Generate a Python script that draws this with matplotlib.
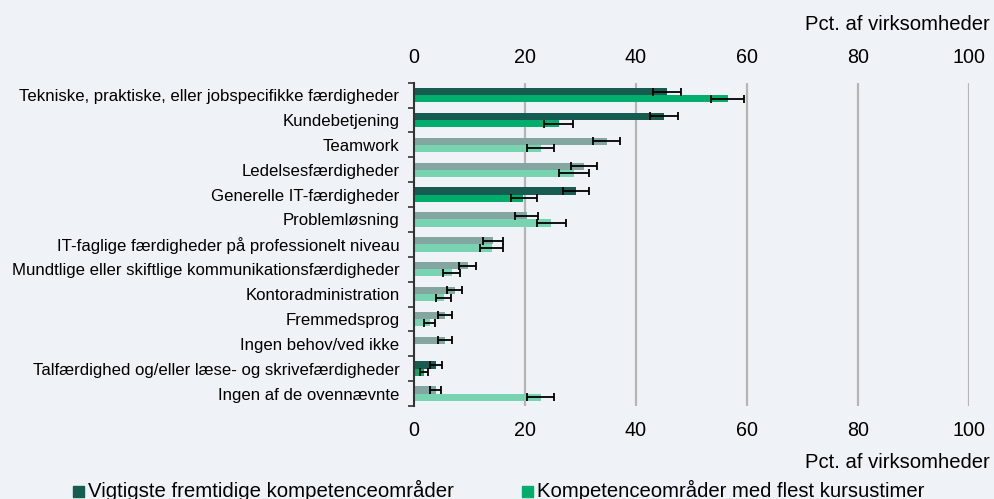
import numpy as np
import matplotlib.pyplot as plt
from matplotlib.patches import Rectangle

categories = ['Tekniske, praktiske, eller jobspecifikke færdigheder',
              'Kundebetjening',
              'Teamwork',
              'Ledelsesfærdigheder',
              'Generelle IT-færdigheder',
              'Problemløsning',
              'IT-faglige færdigheder på professionelt niveau',
              'Mundtlige eller skiftlige kommunikationsfærdigheder',
              'Kontoradministration',
              'Fremmedsprog',
              'Ingen behov/ved ikke',
              'Talfærdighed og/eller læse- og skrivefærdigheder',
              'Ingen af de ovennævnte']

# vigtigste fremtidige kompetenceomraader
future_val = [45.5, 45.0, 34.7, 30.6, 29.1, 20.4, 14.2, 9.7, 7.4, 5.6, 5.6, 4.0, 3.9]
future_lo = [43.1, 42.5, 32.2, 28.3, 26.8, 18.2, 12.5, 8.1, 5.9, 4.4, 4.4, 2.9, 2.9]
future_hi = [48.1, 47.6, 37.1, 33.0, 31.5, 22.3, 16.0, 11.1, 8.6, 6.8, 6.8, 5.0, 4.9]

# kompetenceomraader med flest kursustimer
course_val = [56.5, 26.1, 22.9, 28.8, 19.7, 24.7, 14.0, 6.8, 5.4, 2.9, np.nan, 1.8, 22.9]
course_lo = [53.6, 23.5, 20.4, 26.2, 17.4, 22.2, 11.9, 5.3, 4.0, 1.8, np.nan, 1.0, 20.4]
course_hi = [59.5, 28.7, 25.3, 31.5, 22.1, 27.3, 16.0, 8.2, 6.7, 3.8, np.nan, 2.6, 25.3]

# rows drawn in full colour (the rest are faded)
strong = [True, True, False, False, True, False, False, False, False, False, False, True, False]

xticks = [0, 20, 40, 60, 80, 100]

dark = '#175c50'
dark_faded = '#84a6a0'
green = '#00ad6b'
green_faded = '#77d3b0'
bg = '#eff3f7'

plt.rcParams['font.family'] = ['Liberation Sans', 'DejaVu Sans']

fig = plt.figure(figsize=(9.95, 4.99), dpi=100, facecolor=bg)
ax = fig.add_axes([414/995, 1-406/499, 555/995, (406-82.7)/499])
ax.set_facecolor(bg)

y = np.arange(len(categories))
h = 0.29

fv = np.array(future_val)
cv = np.array(course_val)
ferr = [fv - np.array(future_lo), np.array(future_hi) - fv]
cerr = [cv - np.array(course_lo), np.array(course_hi) - cv]

fcol = [dark if s else dark_faded for s in strong]
ccol = [green if s else green_faded for s in strong]

ax.barh(y - h/2, fv, height=h, color=fcol, zorder=3)
ax.barh(y + h/2, np.nan_to_num(cv), height=h, color=ccol, zorder=3)
ax.errorbar(fv, y - h/2, xerr=ferr, fmt='none', ecolor='black',
            elinewidth=1.3, capsize=3, capthick=1.3, zorder=4)
ax.errorbar(cv, y + h/2, xerr=cerr, fmt='none', ecolor='black',
            elinewidth=1.3, capsize=3, capthick=1.3, zorder=4)

ax.set_xlim(0, 100)
ax.set_ylim(len(categories) - 0.5, -0.5)
ax.set_xticks(xticks)
ax.set_xticklabels([str(t) for t in xticks])
ax.set_yticks(y)
ax.set_yticklabels(categories, fontsize=12.1)
ax.set_yticks(np.arange(len(categories) + 1) - 0.5, minor=True)
ax.tick_params(axis='y', which='major', length=0, pad=10.5)
ax.tick_params(axis='y', which='minor', length=4, width=1.2, color='#333333')
ax.tick_params(axis='x', length=0, labelsize=14.2, labeltop=True, labelbottom=True, pad=11)

for s in ['top', 'bottom', 'right']:
    ax.spines[s].set_visible(False)
ax.spines['left'].set_color('#333333')
ax.spines['left'].set_linewidth(1.5)
ax.spines['left'].set_zorder(5)

for t in xticks[1:]:
    ax.axvline(t, color='#b5b5b5', lw=1.6, zorder=1)

fig.text(990/995, 1-25/499, 'Pct. af virksomheder', ha='right', va='center', fontsize=14.6)
fig.text(990/995, 1-463/499, 'Pct. af virksomheder', ha='right', va='center', fontsize=14.6)

# legend
fig.add_artist(Rectangle((73/995, 1-497/499), 11/995, 11/499, color=dark, transform=fig.transFigure))
fig.text(88/995, 1-490/499, 'Vigtigste fremtidige kompetenceområder', ha='left', va='center', fontsize=14.7)
fig.add_artist(Rectangle((522/995, 1-497/499), 11/995, 11/499, color=green, transform=fig.transFigure))
fig.text(537/995, 1-490/499, 'Kompetenceområder med flest kursustimer', ha='left', va='center', fontsize=14.6)

fig.savefig('out.png', dpi=100, facecolor=bg)
